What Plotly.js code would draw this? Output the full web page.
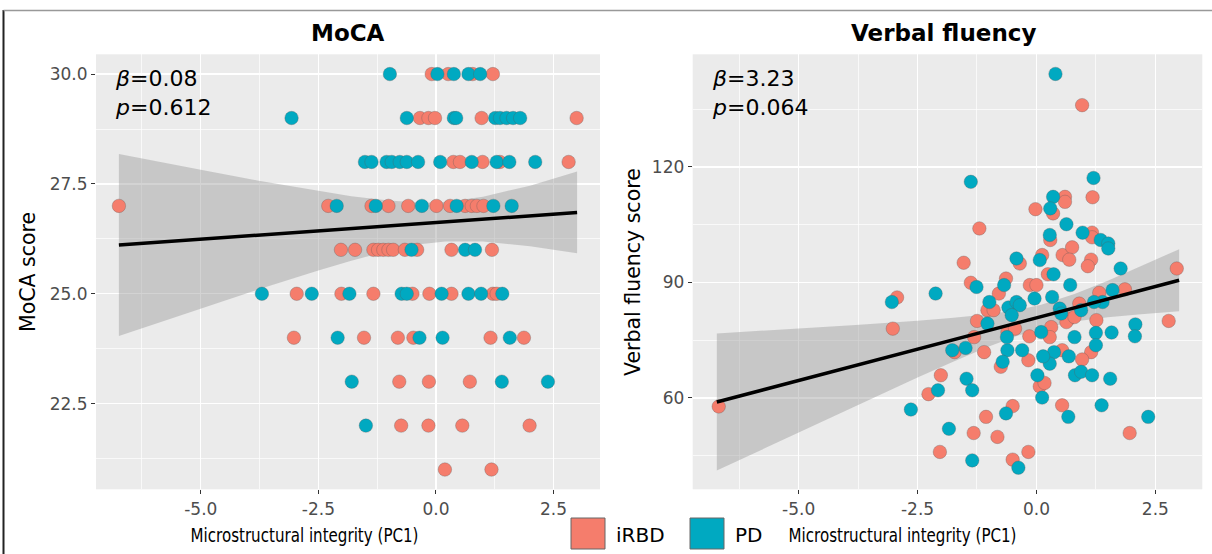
<!DOCTYPE html>
<html><head><meta charset="utf-8">
<script src="https://cdn.plot.ly/plotly-3.0.1.min.js"></script>
<style>html,body{margin:0;padding:0;background:#fff}#chart{width:1212px;height:554px}</style>
</head><body><div id="chart"></div>
<script>
// ---------- data ----------
const groups = ['iRBD', 'PD'];
const panelTitles = ['MoCA', 'Verbal fluency'];
const yTitles = ['MoCA score', 'Verbal fluency score'];
const xTitle = 'Microstructural integrity (PC1)';
const stats = [['0.08', '0.612'], ['3.23', '0.064']];

const xTickVals = [-5, -2.5, 0, 2.5];
const xTickText = ['-5.0', '-2.5', '0.0', '2.5'];
const xMinorVals = [-6.25, -3.75, -1.25, 1.25];
const mocaTickVals = [22.5, 25, 27.5, 30];
const mocaTickText = ['22.5', '25.0', '27.5', '30.0'];
const mocaMinorVals = [21.25, 23.75, 26.25, 28.75];
const vfTickVals = [60, 90, 120];
const vfTickText = ['60', '90', '120'];
const vfMinorVals = [45, 75, 105, 135];

// MoCA panel
const mocaX_iRBD = [-0.09,0.26,0.78,1.21, -0.34,-0.16,-0.02,0.97,2.99, 0.37,0.51,0.99,1.36,2.82,
  -6.74,-2.29,-1.37,-1.01,-0.59,0.01,0.30,0.62,0.76,0.87,1.01,
  -2.02,-1.72,-1.33,-1.23,-1.12,-1.01,-0.91,-0.66,-0.40,0.33,1.19,
  -2.96,-2.01,-1.33,-0.50,-0.14,0.33,1.21,1.29,
  -3.02,-1.53,-0.81,-0.48,1.16,1.87, -0.78,-0.15,0.72, -0.74,-0.16,0.56,1.99, 0.19,1.18];
const mocaY_iRBD = [30,30,30,30, 29,29,29,29,29, 28,28,28,28,28,
  27,27,27,27,27,27,27,27,27,27,27,
  26,26,26,26,26,26,26,26,26,26,26,
  25,25,25,25,25,25,25,25,
  24,24,24,24,24,24, 23,23,23, 22,22,22,22, 21,21];
const mocaX_PD = [-0.98,0.03,0.38,0.69,0.94,
  -3.07,-0.62,0.38,0.43,1.26,1.36,1.50,1.64,1.79,
  -1.51,-1.37,-1.05,-0.94,-0.77,-0.62,-0.38,0.09,0.76,1.29,1.56,2.11,
  -2.11,-1.28,-0.30,0.44,1.22,1.61,
  -0.52,0.62,0.83,
  -3.70,-2.64,-1.84,-0.73,-0.62,0.12,0.69,0.96,1.41,
  -2.09,-0.35,0.14,1.57, -1.79,1.40,2.38, -1.49];
const mocaY_PD = [30,30,30,30,30,
  29,29,29,29,29,29,29,29,29,
  28,28,28,28,28,28,28,28,28,28,28,28,
  27,27,27,27,27,27,
  26,26,26,
  25,25,25,25,25,25,25,25,25,
  24,24,24,24, 23,23,23, 22];
const mocaFitX = [-6.74, 3.0];
const mocaFitY = [26.11, 26.85];
const mocaBandX = [-6.74,-5,-3.8,-2.5,-1.8,-1,-0.3,0.2,1.0,2.0,3.0];
const mocaBandLo = [24.04,24.66,25.09,25.53,25.75,25.98,26.13,26.19,26.19,26.08,25.92];
const mocaBandHi = [28.18,27.82,27.58,27.34,27.22,27.12,27.07,27.09,27.21,27.46,27.78];

// Verbal fluency panel
const vfX_iRBD = [-6.68,-3.02,-2.93,0.96,0.60,0.60,1.18,-0.02,0.35,-1.20,0.29,1.17,1.17,-1.53,-0.35,0.12,0.55,0.75,0.69,1.15,1.08,2.95,
  -1.38,-0.64,-0.79,0.24,-0.14,0.00,-1.03,-0.90,0.90,0.69,0.63,0.80,1.32,1.86,2.78,1.26,1.15,0.96,0.54,0.31,0.28,-0.15,-0.17,-0.75,
  -0.61,-0.45,-1.25,-1.31,-1.10,-1.72,-2.01,-2.27,-2.03,-1.32,-1.06,-0.82,-0.50,-0.50,-0.17,0.07,0.17,0.54,1.96];
const vfY_iRBD = [57.8,78.0,86.1,136.0,112.2,110.9,112.1,109.0,107.9,104.0,101.0,102.9,101.7,95.1,94.9,97.1,97.1,99.1,95.9,95.9,94.2,93.6,
  89.9,91.0,87.1,92.1,89.3,89.3,82.8,82.8,84.5,80.6,79.7,81.0,87.3,88.2,80.0,80.2,71.9,70.0,72.4,78.4,75.8,76.0,69.8,68.1,
  77.1,78.0,80.0,75.8,71.9,71.9,65.9,61.0,46.0,50.9,55.1,49.9,57.9,44.0,46.0,63.0,63.9,58.1,50.9];
const vfX_PD = [-3.04,-2.12,0.40,-1.38,1.20,0.35,0.29,0.63,0.28,0.97,1.35,1.51,1.51,-0.42,0.07,1.77,0.36,
  -1.26,-0.68,0.71,-0.99,-0.59,-0.42,-0.35,-0.52,-0.04,0.33,0.49,0.94,0.52,1.39,1.21,1.60,2.08,2.07,1.58,1.25,1.25,0.80,
  0.68,0.37,0.28,0.14,0.10,-0.30,-0.61,-0.71,-0.62,-1.03,-1.49,-1.77,-2.07,-2.64,-1.47,-1.35,-1.84,-0.64,-1.35,-0.38,
  0.02,0.12,0.67,0.81,0.94,1.17,1.55,1.37,2.35];
const vfY_PD = [84.9,87.1,144.1,116.1,117.1,112.2,109.2,105.1,102.3,102.9,101.0,100.1,98.8,96.2,95.8,93.6,92.1,
  88.8,89.3,89.3,84.9,83.5,84.9,84.1,81.5,85.8,86.2,83.2,82.8,81.9,84.9,84.9,88.0,79.1,76.0,77.0,76.9,73.7,75.8,
  70.8,71.9,68.9,70.8,77.1,72.4,72.4,69.4,75.8,79.3,73.0,72.4,62.0,57.0,65.0,62.0,52.0,56.0,43.8,41.9,
  65.9,60.1,55.1,65.9,66.8,65.9,65.0,58.1,55.1];
const vfFitX = [-6.72, 3.0];
const vfFitY = [58.96, 90.55];
const vfBandX = [-6.72,-5,-3.8,-2.5,-1.8,-1,-0.4,0.1,0.8,1.5,2.2,3.0];
const vfBandLo = [41.16,51.08,57.96,65.31,69.17,73.37,76.16,78.04,79.83,80.93,81.73,82.48];
const vfBandHi = [76.76,78.02,78.94,80.03,80.73,81.73,82.84,84.20,86.97,90.41,94.17,98.62];

// ---------- style ----------
const colors = {iRBD: '#F57D6C', PD: '#00A9C1'};
const W = 1212, H = 554;
const FONT = 'DejaVu Sans, sans-serif';
const px = v => v / W, py = v => 1 - v / H;

function bandTrace(bx, lo, hi, xa, ya) {
  return {x: bx.concat(bx.slice().reverse()), y: lo.concat(hi.slice().reverse()),
    xaxis: xa, yaxis: ya, type: 'scatter', mode: 'lines', fill: 'toself',
    fillcolor: 'rgba(150,150,150,0.42)', line: {width: 0}, hoverinfo: 'skip', showlegend: false};
}
function pts(x, y, g, xa, ya) {
  return {x: x, y: y, xaxis: xa, yaxis: ya, type: 'scatter', mode: 'markers', name: g, showlegend: false,
    marker: {size: 13.5, color: colors[g], line: {width: 0.7, color: 'rgba(90,90,90,0.45)'}}};
}
function fit(x, y, xa, ya) {
  return {x: x, y: y, xaxis: xa, yaxis: ya, type: 'scatter', mode: 'lines',
    line: {color: '#000', width: 3.5}, showlegend: false, hoverinfo: 'skip'};
}

const traces = [
  bandTrace(mocaBandX, mocaBandLo, mocaBandHi, 'x', 'y'),
  pts(mocaX_iRBD, mocaY_iRBD, 'iRBD', 'x', 'y'),
  pts(mocaX_PD, mocaY_PD, 'PD', 'x', 'y'),
  fit(mocaFitX, mocaFitY, 'x', 'y'),
  bandTrace(vfBandX, vfBandLo, vfBandHi, 'x2', 'y2'),
  pts(vfX_iRBD, vfY_iRBD, 'iRBD', 'x2', 'y2'),
  pts(vfX_PD, vfY_PD, 'PD', 'x2', 'y2'),
  fit(vfFitX, vfFitY, 'x2', 'y2')
];

const tickFont = {family: FONT, size: 17, color: '#4D4D4D'};
function axis(extra) {
  return Object.assign({
    showgrid: true, gridcolor: '#FFFFFF', gridwidth: 1.4, zeroline: false, showline: false,
    ticks: 'outside', ticklen: 4, tickwidth: 1, tickcolor: '#333333', tickfont: tickFont,
    tickmode: 'array', fixedrange: true
  }, extra);
}
const minor = vals => ({tickmode: 'array', tickvals: vals, showgrid: true, gridcolor: '#FFFFFF', gridwidth: 0.7, ticks: ''});

const yTop = 54.3, yBot = 489.3;
const layout = {
  width: W, height: H, margin: {l: 0, r: 0, t: 0, b: 0},
  paper_bgcolor: '#FFFFFF', plot_bgcolor: '#EBEBEB', showlegend: false,
  xaxis: axis({domain: [px(96), px(600)], range: [-7.227, 3.487], tickvals: xTickVals, ticktext: xTickText, minor: minor(xMinorVals), anchor: 'y'}),
  yaxis: axis({domain: [py(yBot), py(yTop)], range: [20.55, 30.45], tickvals: mocaTickVals, ticktext: mocaTickText, minor: minor(mocaMinorVals), anchor: 'x'}),
  xaxis2: axis({domain: [px(692.7), px(1202.3)], range: [-7.227, 3.487], tickvals: xTickVals, ticktext: xTickText, minor: minor(xMinorVals), anchor: 'y2'}),
  yaxis2: axis({domain: [py(yBot), py(yTop)], range: [36.3, 149.2], tickvals: vfTickVals, ticktext: vfTickText, minor: minor(vfMinorVals), anchor: 'x2'}),
  annotations: [],
  shapes: []
};

const A = layout.annotations;
function txt(text, x, y, size, extra) {
  A.push(Object.assign({text: text, x: px(x), y: py(y), xref: 'paper', yref: 'paper', showarrow: false,
    xanchor: 'center', yanchor: 'middle', font: {family: FONT, size: size, color: '#000'}}, extra || {}));
}
// panel titles
txt('<b>' + panelTitles[0] + '</b>', 348, 33, 23);
txt('<b>' + panelTitles[1] + '</b>', 943.5, 33, 23);
// axis titles
txt(xTitle, 304, 535, 19);
txt(xTitle, 902, 535, 19);
txt(yTitles[0], 28, 272, 20.5, {textangle: -90});
txt(yTitles[1], 633, 272, 20.5, {textangle: -90});
// stats
A.push({text: '<i>β</i>=' + stats[0][0] + '<br><i>p</i>=' + stats[0][1], x: 0.034, y: 0.978, xref: 'x domain', yref: 'y domain', showarrow: false, xanchor: 'left', yanchor: 'top', align: 'left', font: {family: FONT, size: 22, color: '#000'}});
A.push({text: '<i>β</i>=' + stats[1][0] + '<br><i>p</i>=' + stats[1][1], x: 0.034, y: 0.978, xref: 'x2 domain', yref: 'y2 domain', showarrow: false, xanchor: 'left', yanchor: 'top', align: 'left', font: {family: FONT, size: 22, color: '#000'}});
// legend
const S = layout.shapes;
S.push({type: 'rect', xref: 'paper', yref: 'paper', x0: px(571), x1: px(605), y0: py(549), y1: py(518), fillcolor: colors.iRBD, line: {color: '#666', width: 1}});
S.push({type: 'rect', xref: 'paper', yref: 'paper', x0: px(690), x1: px(724), y0: py(549), y1: py(518), fillcolor: colors.PD, line: {color: '#666', width: 1}});
txt(groups[0], 614, 535, 20, {xanchor: 'left'});
txt(groups[1], 733, 535, 20, {xanchor: 'left'});
// frame
S.push({type: 'line', xref: 'paper', yref: 'paper', x0: px(3.5), x1: px(3.5), y0: 0, y1: py(10), line: {color: '#222', width: 2}});
S.push({type: 'line', xref: 'paper', yref: 'paper', x0: px(3.5), x1: 1, y0: py(10.5), y1: py(10.5), line: {color: '#999', width: 1.5}});

Plotly.newPlot('chart', traces, layout, {displayModeBar: false, staticPlot: true}).then(function () {
  // fit the x-axis titles to the width measured on the reference
  document.querySelectorAll('#chart .annotation-text').forEach(function (t) {
    if (t.textContent === xTitle) {
      t.setAttribute('textLength', '228');
      t.setAttribute('lengthAdjust', 'spacingAndGlyphs');
    }
  });
});
</script></body></html>
